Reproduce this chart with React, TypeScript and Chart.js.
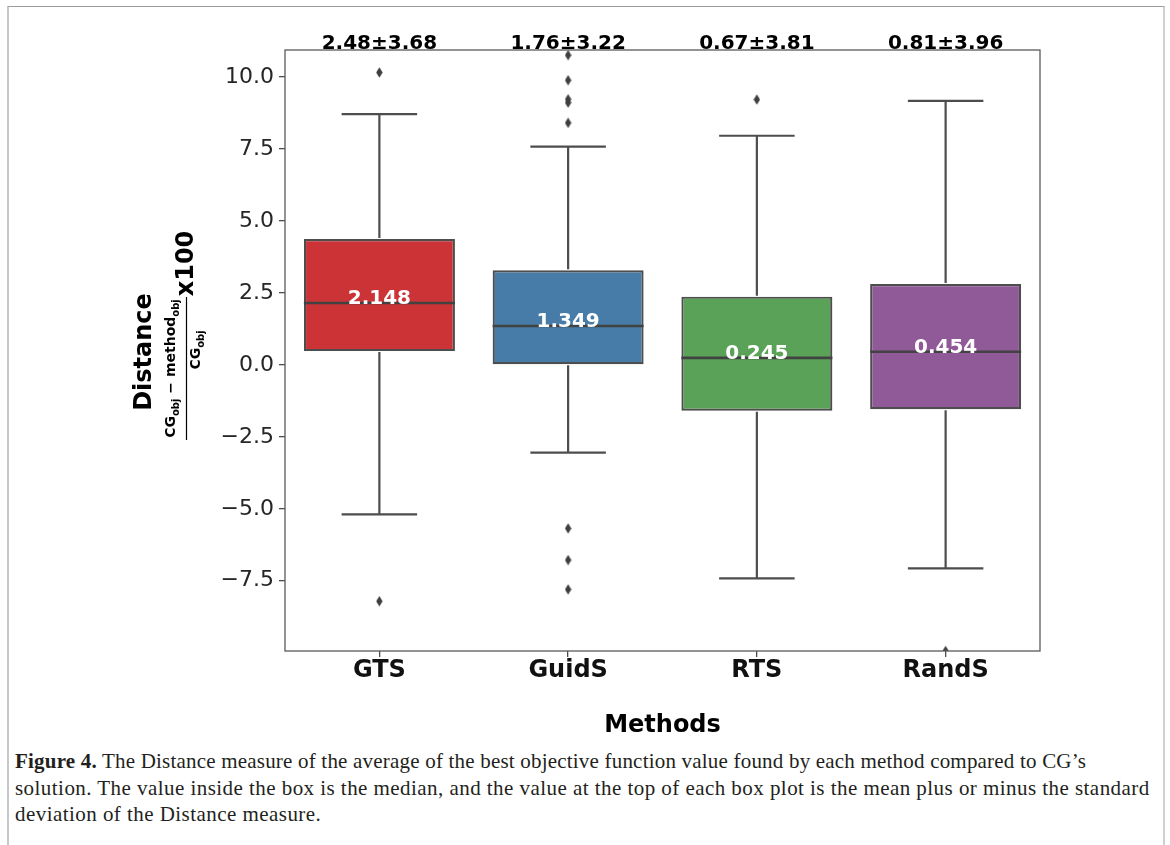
import React, { useEffect, useRef } from 'react';
import { Chart, registerables } from 'chart.js';

Chart.register(...registerables);

const categories = ['GTS', 'GuidS', 'RTS', 'RandS'];
const q1Values = [0.48, 0.02, -1.59, -1.54];
const q3Values = [4.37, 3.29, 2.37, 2.81];
const medianValues = [2.148, 1.349, 0.245, 0.454];
const whiskerLow = [-5.19, -3.05, -7.42, -7.07];
const whiskerHigh = [8.71, 7.58, 7.96, 9.17];
const gtsOutliers = [10.16, -8.21];
const guidsOutliers = [10.76, 9.89, 9.23, 9.11, 8.41, -5.68, -6.78, -7.8];
const rtsOutliers = [9.22];
const randsOutliers = [-9.94];
const outlierValues = [gtsOutliers, guidsOutliers, rtsOutliers, randsOutliers];
const medianLabels = ['2.148', '1.349', '0.245', '0.454'];
const meanStdLabels = ['2.48±3.68', '1.76±3.22', '0.67±3.81', '0.81±3.96'];
const boxColors = ['#cb3336', '#477ca8', '#59a257', '#905998'];
const yTickValues = [-7.5, -5, -2.5, 0, 2.5, 5, 7.5, 10];
const yTickLabels = ['−7.5', '−5.0', '−2.5', '0.0', '2.5', '5.0', '7.5', '10.0'];
const yMin = -9.94;
const yMax = 10.94;

const LINE = '#4d4d4d';
const FONT = '"DejaVu Sans", Verdana, sans-serif';

function makeDiamond(): HTMLCanvasElement {
  const c = document.createElement('canvas');
  c.width = 7;
  c.height = 11;
  const g = c.getContext('2d')!;
  g.fillStyle = '#3f3f3f';
  g.beginPath();
  g.moveTo(3.5, 0.3);
  g.lineTo(6.7, 5.5);
  g.lineTo(3.5, 10.7);
  g.lineTo(0.3, 5.5);
  g.closePath();
  g.fill();
  return c;
}

type Part = { t: string; sub?: boolean };

function drawMathRow(ctx: CanvasRenderingContext2D, parts: Part[], centerU: number, baseV: number) {
  const main = `bold 14px ${FONT}`;
  const subF = `bold 10px ${FONT}`;
  let total = 0;
  const widths = parts.map((p) => {
    ctx.font = p.sub ? subF : main;
    const w = ctx.measureText(p.t).width;
    total += w;
    return w;
  });
  let u = centerU - total / 2;
  ctx.textAlign = 'left';
  ctx.textBaseline = 'alphabetic';
  parts.forEach((p, i) => {
    ctx.font = p.sub ? subF : main;
    ctx.fillText(p.t, u, p.sub ? baseV + 3.5 : baseV);
    u += widths[i];
  });
  return total;
}

const boxPlugin = {
  id: 'boxExtras',
  afterDatasetsDraw(chart: any) {
    const ctx: CanvasRenderingContext2D = chart.ctx;
    const xs = chart.scales.x;
    const ys = chart.scales.y;
    const meta = chart.getDatasetMeta(0);
    const area = chart.chartArea;
    ctx.save();
    categories.forEach((_, i) => {
      const x = xs.getPixelForValue(i);
      const bw = meta.data[i].width;
      const capHalf = bw / 4;
      const yq1 = ys.getPixelForValue(q1Values[i]);
      const yq3 = ys.getPixelForValue(q3Values[i]);
      const yLo = ys.getPixelForValue(whiskerLow[i]);
      const yHi = ys.getPixelForValue(whiskerHigh[i]);
      const yMed = ys.getPixelForValue(medianValues[i]);
      ctx.strokeStyle = LINE;
      ctx.lineWidth = 2.2;
      ctx.lineCap = 'butt';
      ctx.beginPath();
      ctx.moveTo(x, yq3 - 1);
      ctx.lineTo(x, yHi);
      ctx.moveTo(x - capHalf, yHi);
      ctx.lineTo(x + capHalf, yHi);
      ctx.moveTo(x, yq1 + 1);
      ctx.lineTo(x, yLo);
      ctx.moveTo(x - capHalf, yLo);
      ctx.lineTo(x + capHalf, yLo);
      ctx.stroke();
      ctx.strokeStyle = '#424242';
      ctx.lineWidth = 2.6;
      ctx.beginPath();
      ctx.moveTo(x - bw / 2, yMed);
      ctx.lineTo(x + bw / 2, yMed);
      ctx.stroke();
      ctx.fillStyle = '#ffffff';
      ctx.font = `bold 20px ${FONT}`;
      ctx.textAlign = 'center';
      ctx.textBaseline = 'alphabetic';
      ctx.fillText(medianLabels[i], x, yMed + 1);
      ctx.fillStyle = '#000000';
      ctx.fillText(meanStdLabels[i], x, area.top - 1);
    });
    ctx.restore();
  },
  afterDraw(chart: any) {
    const ctx: CanvasRenderingContext2D = chart.ctx;
    const area = chart.chartArea;
    ctx.save();
    ctx.strokeStyle = '#5a5a5a';
    ctx.lineWidth = 1.3;
    ctx.strokeRect(area.left, area.top, area.right - area.left, area.bottom - area.top);

    ctx.fillStyle = '#000000';
    ctx.font = `bold 24px ${FONT}`;
    ctx.textAlign = 'center';
    ctx.textBaseline = 'alphabetic';
    ctx.fillText('Methods', (area.left + area.right) / 2, area.bottom + 81);

    // y-axis title (rotated): screen (X, Y) -> local (u = -Y, v = X)
    ctx.rotate(-Math.PI / 2);
    ctx.font = `bold 24px ${FONT}`;
    ctx.textAlign = 'center';
    ctx.fillText('Distance', -352, 150.5);
    drawMathRow(
      ctx,
      [{ t: 'CG' }, { t: 'obj', sub: true }, { t: ' − ' }, { t: 'method' }, { t: 'obj', sub: true }],
      -368.5,
      175
    );
    ctx.strokeStyle = '#000000';
    ctx.lineWidth = 1.2;
    ctx.beginPath();
    ctx.moveTo(-440, 186.5);
    ctx.lineTo(-297, 186.5);
    ctx.stroke();
    drawMathRow(ctx, [{ t: 'CG' }, { t: 'obj', sub: true }], -350, 200);
    ctx.font = `bold 24px ${FONT}`;
    ctx.textAlign = 'center';
    ctx.fillText('x100', -263.5, 193);
    ctx.restore();
  },
};

export default function App() {
  const ref = useRef<HTMLCanvasElement | null>(null);
  useEffect(() => {
    if (!ref.current) return;
    const diamond = makeDiamond();
    const outlierPoints = outlierValues.flatMap((vals, i) => vals.map((v) => ({ x: categories[i], y: v })));
    const chart = new Chart(ref.current, {
      type: 'bar',
      data: {
        labels: categories,
        datasets: [
          {
            type: 'bar',
            data: categories.map((_, i) => [q1Values[i], q3Values[i]]) as any,
            backgroundColor: boxColors,
            borderColor: LINE,
            borderWidth: 2.2,
            borderSkipped: false,
            barPercentage: 0.8,
            categoryPercentage: 1,
          } as any,
          {
            type: 'scatter',
            data: outlierPoints as any,
            pointStyle: diamond,
            pointRadius: 4,
            showLine: false,
            clip: 0,
          } as any,
        ],
      },
      options: {
        animation: false,
        responsive: false,
        maintainAspectRatio: false,
        devicePixelRatio: 1,
        layout: { padding: { left: 0, top: 50, right: 130, bottom: 0 } },
        plugins: { legend: { display: false }, tooltip: { enabled: false } },
        scales: {
          x: {
            type: 'category',
            offset: true,
            afterFit: (s: any) => {
              s.height = 89;
            },
            grid: { display: true, offset: false, drawOnChartArea: false, drawTicks: true, tickLength: 6, color: LINE, lineWidth: 1.3 },
            border: { display: false },
            ticks: { color: '#111111', font: { family: FONT, size: 24, weight: 'bold' }, padding: -1 },
          },
          y: {
            type: 'linear',
            min: yMin,
            max: yMax,
            afterFit: (s: any) => {
              s.width = 285;
            },
            afterBuildTicks: (s: any) => {
              s.ticks = yTickValues.map((v) => ({ value: v }));
            },
            grid: { display: true, drawOnChartArea: false, drawTicks: true, tickLength: 6, color: LINE, lineWidth: 1.3 },
            border: { display: false },
            ticks: {
              color: '#262626',
              font: { family: FONT, size: 22 },
              padding: 5,
              callback: (value: any) => yTickLabels[yTickValues.indexOf(Number(value))],
            },
          },
        },
      } as any,
      plugins: [boxPlugin],
    });
    return () => chart.destroy();
  }, []);

  return (
    <div style={{ position: 'fixed', left: 0, top: 0, width: 1170, height: 845, overflow: 'hidden', background: '#ffffff' }}>
      <div
        style={{
          position: 'absolute',
          left: 7,
          top: 6,
          width: 1158,
          height: 839,
          boxSizing: 'border-box',
          borderTop: '1px solid #9a9a9a',
          borderLeft: '2px solid #c8c8c8',
          borderRight: '2px solid #d0d0d0',
        }}
      />
      <canvas ref={ref} width={1170} height={740} style={{ position: 'absolute', left: 0, top: 0, width: 1170, height: 740 }} />
      <div
        style={{
          position: 'absolute',
          left: 15,
          top: 748,
          width: 1150,
          fontFamily: '"Liberation Serif", "Times New Roman", serif',
          fontSize: 21,
          letterSpacing: '0.45px',
          lineHeight: '26.5px',
          color: '#231f20',
          whiteSpace: 'nowrap',
        }}
      >
        <span style={{ letterSpacing: '0.2px' }}>
          <b>Figure 4.</b> The Distance measure of the average of the best objective function value found by each method compared to CG’s
        </span>
        <br />
        solution. The value inside the box is the median, and the value at the top of each box plot is the mean plus or minus the standard
        <br />
        deviation of the Distance measure.
      </div>
    </div>
  );
}
